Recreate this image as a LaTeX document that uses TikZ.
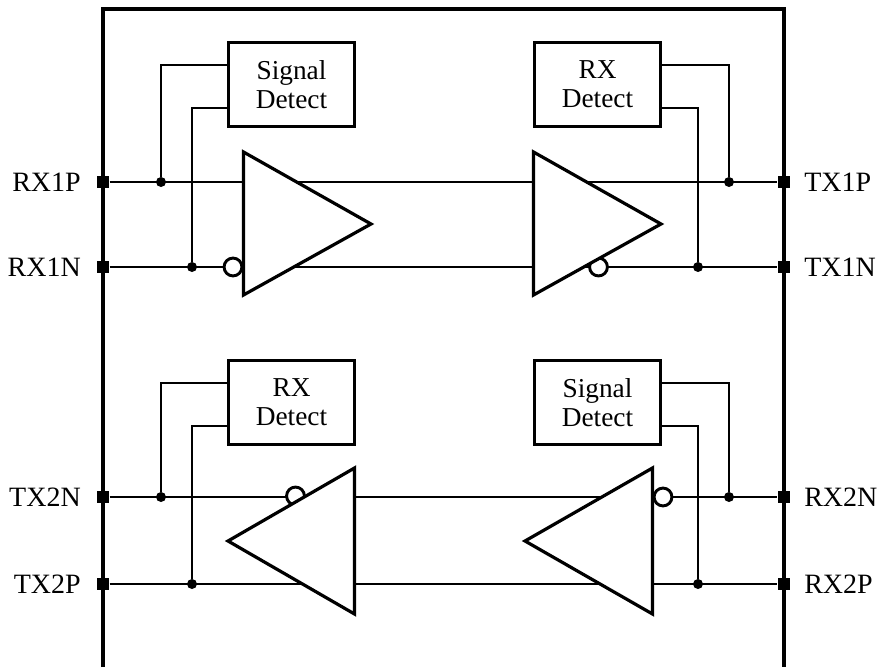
\documentclass[tikz,border=0pt]{standalone}
\usepackage{fontspec}
\setmainfont{Liberation Serif}
\usetikzlibrary{calc}
\begin{document}
\begin{tikzpicture}[x=0.75pt,y=-0.75pt,
  frameln/.style={line width=2.4pt},
  wirel/.style={line width=1.5pt},
  ampl/.style={line width=2.4pt, fill=white, line join=miter},
  bubl/.style={line width=2.2pt, fill=white},
  detbox/.style={draw, line width=2.3pt, minimum width=94.5pt, minimum height=63.5pt,
    inner sep=0pt, align=center, font=\fontsize{20.5pt}{22pt}\selectfont},
  pinsq/.style={fill=black, minimum width=9.5pt, minimum height=8.5pt, inner sep=0pt},
  jdot/.style={circle, fill=black, minimum size=7.5pt, inner sep=0pt},
  lbltxt/.style={font=\fontsize{21pt}{24pt}\selectfont, inner sep=0pt}]
\useasboundingbox (0,0) rectangle (877,667);

% frame (open at the bottom)
\draw[frameln] (103,667) -- (103,9) -- (784,9) -- (784,667);

% detect boxes
\node[detbox] (sd1) at (291.5,84.5) {Signal\\Detect};
\node[detbox] (rx1) at (597.5,84.5) {RX\\Detect};
\node[detbox] (rx2) at (291.5,402.5) {RX\\Detect};
\node[detbox] (sd2) at (597.5,402.5) {Signal\\Detect};

% pins
\node[pinsq] (p1) at (103,182) {};
\node[pinsq] (p2) at (103,267) {};
\node[pinsq] (p3) at (103,497) {};
\node[pinsq] (p4) at (103,584) {};
\node[pinsq] (p5) at (784,182) {};
\node[pinsq] (p6) at (784,267) {};
\node[pinsq] (p7) at (784,497) {};
\node[pinsq] (p8) at (784,584) {};

% junction dots
\node[jdot] (d1) at (161,182) {};
\node[jdot] (d2) at (192,267) {};
\node[jdot] (d3) at (729,182) {};
\node[jdot] (d4) at (698,267) {};
\node[jdot] (d5) at (161,497) {};
\node[jdot] (d6) at (192,584) {};
\node[jdot] (d7) at (729,497) {};
\node[jdot] (d8) at (698,584) {};

% main wires
\draw[wirel] (p1) -- (p5);
\draw[wirel] (p2) -- (p6);
\draw[wirel] (p3) -- (p7);
\draw[wirel] (p4) -- (p8);

% detect wires
\draw[wirel] ($(sd1.west)+(0,-19)$) -| (d1);
\draw[wirel] ($(sd1.west)+(0,23.5)$) -| (d2);
\draw[wirel] ($(rx1.east)+(0,-19)$) -| (d3);
\draw[wirel] ($(rx1.east)+(0,23.5)$) -| (d4);
\draw[wirel] ($(rx2.west)+(0,-20)$) -| (d5);
\draw[wirel] ($(rx2.west)+(0,23)$) -| (d6);
\draw[wirel] ($(sd2.east)+(0,-20)$) -| (d7);
\draw[wirel] ($(sd2.east)+(0,23)$) -| (d8);

% inversion bubbles
\draw[bubl] (233,267) circle[radius=6.7pt];
\draw[bubl] (598.5,267) circle[radius=6.7pt];
\draw[bubl] (295.5,496) circle[radius=6.7pt];
\draw[bubl] (663,497) circle[radius=6.7pt];

% amplifiers
\draw[ampl] (243.5,152) -- (371,224) -- (243.5,295) -- cycle;
\draw[ampl] (533.5,152) -- (661,224) -- (533.5,295) -- cycle;
\draw[ampl] (354.5,468) -- (228,541) -- (354.5,614) -- cycle;
\draw[ampl] (652.5,468) -- (525,541) -- (652.5,614) -- cycle;

% labels
\node[lbltxt, anchor=east] (l1) at (81,182) {RX1P};
\node[lbltxt, anchor=east] (l2) at (81,267) {RX1N};
\node[lbltxt, anchor=east] (l3) at (81,497) {TX2N};
\node[lbltxt, anchor=east] (l4) at (81,584) {TX2P};
\node[lbltxt, anchor=west] (l5) at (804,182) {TX1P};
\node[lbltxt, anchor=west] (l6) at (804,267) {TX1N};
\node[lbltxt, anchor=west] (l7) at (804,497) {RX2N};
\node[lbltxt, anchor=west] (l8) at (804,584) {RX2P};
\end{tikzpicture}
\end{document}
